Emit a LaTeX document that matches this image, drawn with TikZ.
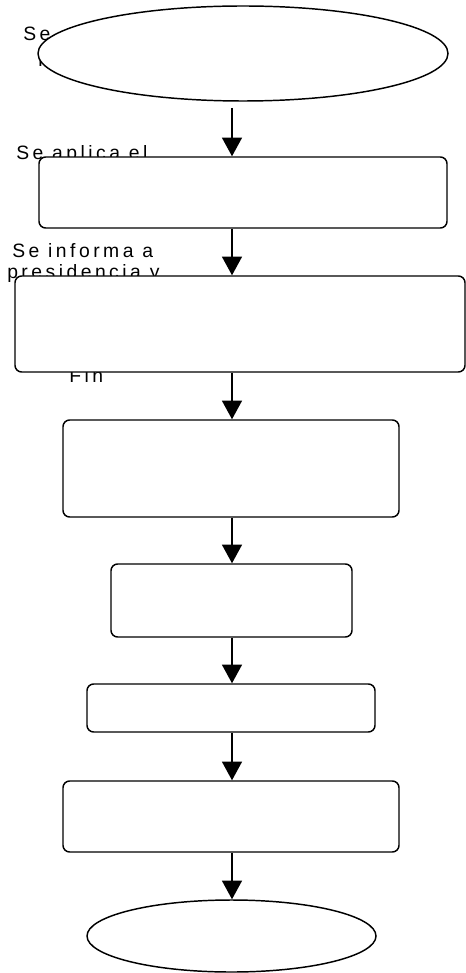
\documentclass[tikz,border=0pt]{standalone}
\usepackage{fontspec}
\newfontfamily\lblfont{Liberation Sans}[LetterSpace=18]
\usetikzlibrary{shapes.geometric,arrows.meta}
\tikzset{
  shape outline/.style={draw=black, line width=1.1pt, fill=white, inner sep=0pt},
  stepbox/.style={shape outline, rectangle, rounded corners=5pt},
  terminal/.style={shape outline, ellipse},
  lbl/.style={anchor=base west, inner sep=0pt, font=\lblfont\fontsize{14.5}{16.5}\selectfont},
  flow/.style={line width=1.1pt, -{Triangle[width=15pt,length=14pt]}}
}
\begin{document}
\begin{tikzpicture}[x=0.75pt, y=-0.75pt]
\useasboundingbox (0,0) rectangle (466,973);

% labels (partly covered by the shapes drawn afterwards)
\node[lbl] (t0a) at (23,41) {Se};
\node[lbl] (t0b) at (38,63) {p};
\node[lbl] (t1) at (16,160) {Se aplica el};
\node[lbl] (t2a) at (12,258) {Se informa a};
\node[lbl] (t2b) at (7,279) {presidencia y};
\node[lbl] (t3) at (69,382) {Fin};

% shapes
\node[terminal, minimum width=307.5pt, minimum height=71.25pt] (start) at (243,53.5) {};
\node[stepbox, minimum width=306pt, minimum height=53.25pt] (b1) at (243,192.5) {};
\node[stepbox, minimum width=337.5pt, minimum height=72pt] (b2) at (240,324) {};
\node[stepbox, minimum width=252pt, minimum height=72.75pt] (b3) at (231,468.5) {};
\node[stepbox, minimum width=180.75pt, minimum height=54.75pt] (b4) at (231.5,600.5) {};
\node[stepbox, minimum width=216pt, minimum height=36pt] (b5) at (231,708) {};
\node[stepbox, minimum width=252pt, minimum height=53.25pt] (b6) at (231,816.5) {};
\node[terminal, minimum width=216.75pt, minimum height=54pt] (stop) at (231.5,936) {};

% connectors along one vertical line
\coordinate (spine) at (232,0);
\coordinate (s0) at (232,108);
\draw[flow] (s0) -- (b1.north -| spine);
\draw[flow] (b1.south -| spine) -- (b2.north -| spine);
\draw[flow] (b2.south -| spine) -- (b3.north -| spine);
\draw[flow] (b3.south -| spine) -- (b4.north -| spine);
\draw[flow] (b4.south -| spine) -- (b5.north -| spine);
\draw[flow] (b5.south -| spine) -- (b6.north -| spine);
\draw[flow] (b6.south -| spine) -- (stop.north -| spine);
\end{tikzpicture}
\end{document}
